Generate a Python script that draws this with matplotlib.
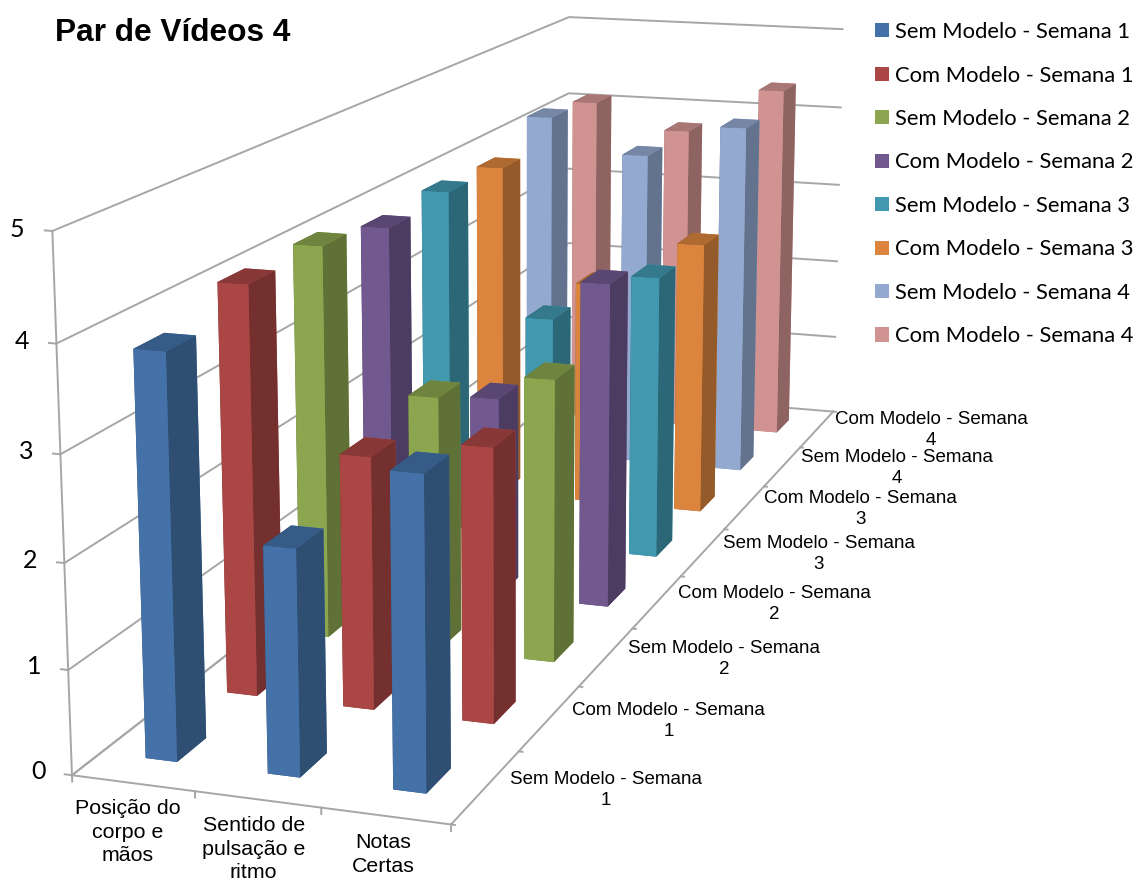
import matplotlib
matplotlib.use('Agg')
import matplotlib.pyplot as plt
from matplotlib.patches import Patch
from matplotlib.colors import to_rgb
from mpl_toolkits.mplot3d import proj3d

categories = ['Posição do\ncorpo e\nmãos', 'Sentido de\npulsação e\nritmo', 'Notas\nCertas']
series = ['Sem Modelo - Semana 1', 'Com Modelo - Semana 1', 'Sem Modelo - Semana 2', 'Com Modelo - Semana 2',
          'Sem Modelo - Semana 3', 'Com Modelo - Semana 3', 'Sem Modelo - Semana 4', 'Com Modelo - Semana 4']
depth_labels = ['Sem Modelo - Semana\n1', 'Com Modelo - Semana\n1', 'Sem Modelo - Semana\n2', 'Com Modelo - Semana\n2',
                'Sem Modelo - Semana\n3', 'Com Modelo - Semana\n3', 'Sem Modelo - Semana\n4', 'Com Modelo - Semana\n4']
posicao = [3.85, 4.07, 4.07, 3.9, 3.95, 3.9, 4.2, 4.1]
sentido = [2.15, 2.5, 2.62, 2.15, 2.6, 2.6, 3.8, 3.8]
notas = [2.95, 2.7, 2.9, 3.47, 3.15, 3.15, 4.2, 4.37]
colors = ['#4472a8', '#aa4644', '#8ba64f', '#71588f', '#4198af', '#db843d', '#93a9cf', '#d19392']
values = [posicao, sentido, notas]

plt.rcParams['font.family'] = ['Liberation Sans', 'DejaVu Sans']
fig = plt.figure(figsize=(11.36, 8.83), dpi=100)
ax = fig.add_axes([-58 / 1136, 90 / 883, 1, 1], projection='3d', computed_zorder=False)
ax.set_axis_off()
ax.set_proj_type('persp', focal_length=0.65)
ax.view_init(elev=13.5, azim=-71.5)
ax.set_box_aspect((0.37, 1.5, 0.51), zoom=1.62)
ax.set_xlim(0, 3, view_margin=0)
ax.set_ylim(0, 8, view_margin=0)
ax.set_zlim(0, 5, view_margin=0)


def label(x, y, z, s, **kw):
    # 3D position to 2D so the text lands in the right place
    px, py, _ = proj3d.proj_transform(x, y, z, ax.get_proj())
    ax.text2D(px, py, s, transform=ax.transData, clip_on=False, **kw)


grid = '#a6a6a6'
for z in range(6):
    ax.plot([0, 0, 3], [0, 8, 8], [z, z, z], color=grid, lw=1.4, zorder=1, clip_on=False)
    ax.plot([-0.06, 0], [0, 0], [z, z], color=grid, lw=1.4, zorder=1, clip_on=False)
ax.plot([0, 0], [0, 0], [0, 5], color=grid, lw=1.4, zorder=1, clip_on=False)
ax.plot([0, 3, 3], [0, 0, 8], [0, 0, 0], color=grid, lw=1.4, zorder=1, clip_on=False)
ax.plot([0, 0], [0, 8], [0, 0], color=grid, lw=1.4, zorder=1, clip_on=False)
for i in range(4):
    ax.plot([i, i], [0, 0], [0, -0.06], color=grid, lw=1.4, zorder=1, clip_on=False)
for j in range(9):
    ax.plot([3, 3.03], [j, j], [0, 0], color=grid, lw=1.4, zorder=1, clip_on=False)

bw = 0.26
bd = 0.35
z = 2
for j in range(7, -1, -1):
    for i in range(3):
        c = to_rgb(colors[j])
        side = tuple(v * 0.68 for v in c)
        top = tuple(v * 0.8 for v in c)
        ax.bar3d(i + 0.37, j + 0.325, 0, bw, bd, values[i][j], shade=False,
                 color=[top, top, c, c, side, side], zorder=z, clip_on=False)
        z += 1

for i, lab in enumerate(categories):
    label(i + 0.6, -0.2, 0.0, lab, fontsize=15.4, ha='center', va='top', ma='center', color='black', linespacing=1.3)
for j, lab in enumerate(depth_labels):
    label(3.2, j + 0.47, 0.02, lab, fontsize=13.5, ha='left', va='center', ma='center', color='black', linespacing=1.28)
for v in range(6):
    label(-0.22, 0, v, str(v), fontsize=18, ha='right', va='center', family=['Lato', 'DejaVu Sans'])

fig.text(0.048, 0.963, 'Par de Vídeos 4', fontsize=22.8, fontweight='bold', va='center')
handles = [Patch(facecolor=c, label=s) for c, s in zip(colors, series)]
fig.legend(handles=handles, loc='upper left', bbox_to_anchor=(0.7625, 0.985), frameon=False, borderaxespad=0,
           prop={'family': 'Lato', 'size': 15.8}, labelspacing=1.07, handlelength=0.63, handleheight=0.63, handletextpad=0.3)
fig.savefig('out.png', dpi=100)
